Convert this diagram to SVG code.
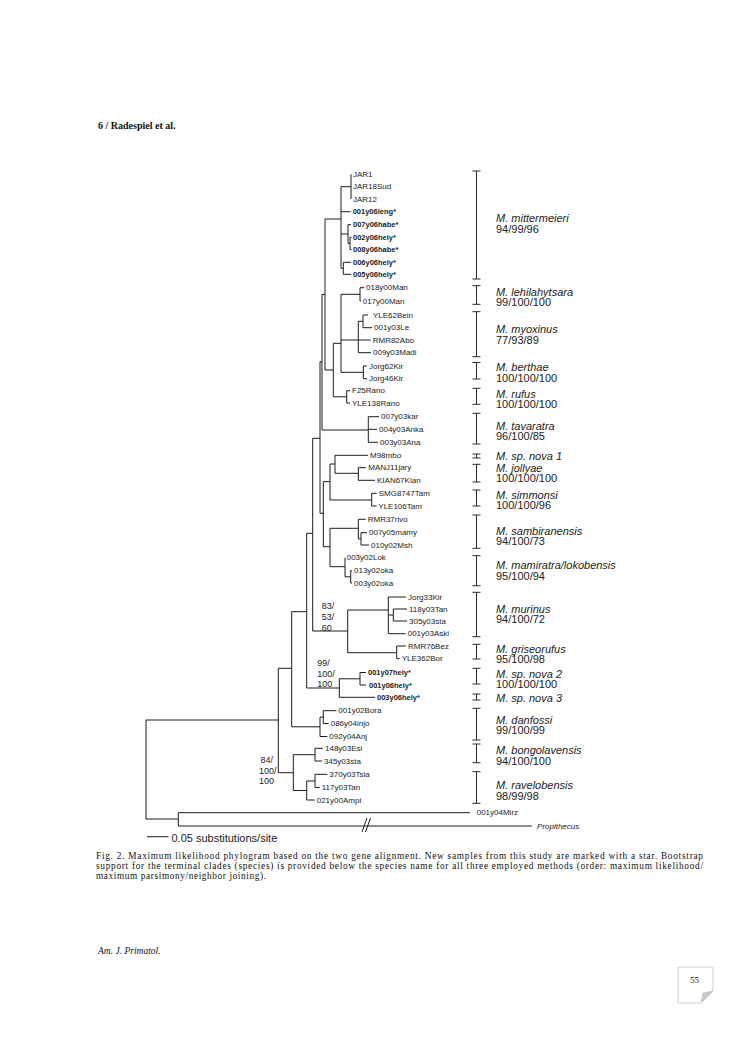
<svg xmlns="http://www.w3.org/2000/svg" width="745" height="1053" viewBox="0 0 745 1053">
<style>
.br{fill:none;stroke:#1c1c1c;stroke-width:1}
.bk{fill:none;stroke:#2a2a2a;stroke-width:1}
.tx{font-family:"Liberation Sans",Arial,sans-serif;font-size:8px;fill:#222;dominant-baseline:central}
.tb{font-weight:bold;font-size:7.5px}
.it{font-style:italic}
.sp{font-family:"Liberation Sans",Arial,sans-serif;font-size:11px;font-style:italic;fill:#222;dominant-baseline:central}
.nm{font-family:"Liberation Sans",Arial,sans-serif;font-size:11px;fill:#222;dominant-baseline:central}
.bs{font-family:"Liberation Sans",Arial,sans-serif;font-size:9px;fill:#222;dominant-baseline:central}
.sf{font-family:"Liberation Serif","Times New Roman",serif;fill:#111}
</style>
<rect width="745" height="1053" fill="#fff"/>
<text class="sf" x="98" y="128.5" font-size="10" font-weight="bold">6 / Radespiel et al.</text>

<g id="connectors">
<path class="br" d="M146 720V819M146 720H278.3M146 819H178.3M178.3 812.7V826M178.3 812.7H470M178.3 826H531.7"/>
<path class="br" d="M362 832L367 818M365.5 832L370.5 818"/>
<path class="br" d="M278.3 668.3V772.7M278.3 668.3H291.7M278.3 772.7H293.3"/>
<path class="br" d="M291.7 611.7V726.8M291.7 611.7H306.7M291.7 726.8H320"/>
<path class="br" d="M306.7 533.3V688M306.7 533.3H312.7M306.7 688H339.3"/>
<path class="br" d="M312.7 438.3V631M312.7 438.3H320M312.7 631H347.7"/>
<path class="br" d="M320 361.7V513.3M320 361.7H322M320 513.3H323.3"/>
<path class="br" d="M322 294.5V430M322 294.5H325M322 430H368.3"/>
<path class="br" d="M325 219V370M325 219H341M325 370H333.3"/>
<path class="br" d="M333.3 343.3V396.8M333.3 343.3H341M333.3 396.8H346.7"/>
<path class="br" d="M341 294.3V372.3M341 294.3H360M341 340H358.3M341 372.3H363.3"/>
<path class="br" d="M341 186.7V268.3M341 186.7H351M341 211.7H350.5M341 234H348M341 268.3H343.3"/>
<path class="br" d="M351 174.3V199M348 224.7V243.4M348 224.7H351M348 243.4H350M350 237.3V249.5M350 237.3H351.5M350 249.5H351.5M343.3 262.3V274.3M343.3 262.3H351M343.3 274.3H351"/>
<path class="br" d="M360 287.7V301M360 287.7H364M360 301H361"/>
<path class="br" d="M358.3 321.3V352.7M358.3 321.3H363M358.3 340H370.7M358.3 352.7H371M363 315V327.7M363 315H368M363 327.7H372"/>
<path class="br" d="M363.3 366V378.7M363.3 366H367M363.3 378.7H367"/>
<path class="br" d="M346.7 390.7V403M346.7 390.7H350M346.7 403H350"/>
<path class="br" d="M368.3 416.7V442.3M368.3 416.7H379M368.3 429.3H377M368.3 442.3H378"/>
<path class="br" d="M323.3 481.7V546.7M323.3 481.7H330M323.3 546.7H330"/>
<path class="br" d="M330 464V500M330 464H335M330 500H371.7M335 455.3V473.3M335 455.3H368M335 473.3H358.3M358.3 467.7V480.3M358.3 467.7H366M358.3 480.3H375M371.7 493.3V506M371.7 493.3H376.7M371.7 506H376.7"/>
<path class="br" d="M330 528.3V566.7M330 528.3H358.3M330 566.7H345M358.3 519.3V538.9M358.3 519.3H365.7M358.3 538.9H361M361 532.7V545M361 532.7H367M361 545H369M345 557.7V576.8M345 576.8H350.7M350.7 570.7V583M350.7 570.7H352M350.7 583H352"/>
<path class="br" d="M347.7 610V652.7M347.7 610H388.3M347.7 652.7H396.7M388.3 597V633.7M388.3 597H406M388.3 615H393.3M388.3 633.7H405.7M393.3 609V621M393.3 609H407M393.3 621H407M396.7 646V658.7M396.7 646H406M396.7 658.7H399.7"/>
<path class="br" d="M339.3 678.8V697.3M339.3 678.8H360M339.3 697.3H375M360 672.5V685M360 672.5H366M360 685H366"/>
<path class="br" d="M320 717.1V736.5M320 717.1H323.3M320 736.5H327.3M323.3 710.7V723.5M323.3 710.7H336.3M323.3 723.5H328.7"/>
<path class="br" d="M293.3 754.7V790.5M293.3 754.7H315M293.3 790.5H306.7M315 748.3V761M315 748.3H323M315 761H322M306.7 781V800M306.7 781H315M306.7 800H314.7M315 774.3V787.5M315 774.3H327.3M315 787.5H319.7"/>
<path class="br" d="M147 836.7H168.5"/>
</g>

<g id="taxa">
<g id="t-JAR1"><text class="tx" x="353" y="174.3">JAR1</text></g>
<g id="t-JAR18Sud"><text class="tx" x="353" y="186.7">JAR18Sud</text></g>
<g id="t-JAR12"><text class="tx" x="353" y="199">JAR12</text></g>
<g id="t-001y06leng"><text class="tx tb" x="352.7" y="211.7">001y06leng*</text></g>
<g id="t-007y06habe"><text class="tx tb" x="353" y="224.7">007y06habe*</text></g>
<g id="t-002y06hely"><text class="tx tb" x="353" y="237.3">002y06hely*</text></g>
<g id="t-008y06habe"><text class="tx tb" x="353" y="249.5">008y06habe*</text></g>
<g id="t-006y06hely"><text class="tx tb" x="353" y="262.3">006y06hely*</text></g>
<g id="t-005y06hely"><text class="tx tb" x="353" y="274.3">005y06hely*</text></g>
<g id="t-018y00Man"><text class="tx" x="366" y="287.7">018y00Man</text></g>
<g id="t-017y00Man"><text class="tx" x="362.7" y="301">017y00Man</text></g>
<g id="t-YLE62Bein"><text class="tx" x="373" y="315">YLE62Bein</text></g>
<g id="t-001y03Le"><text class="tx" x="374" y="327.7">001y03Le</text></g>
<g id="t-RMR82Abo"><text class="tx" x="372.7" y="340">RMR82Abo</text></g>
<g id="t-009y03Madi"><text class="tx" x="373" y="352.7">009y03Madi</text></g>
<g id="t-Jorg62Kir"><text class="tx" x="369" y="366">Jorg62Kir</text></g>
<g id="t-Jorg46Kir"><text class="tx" x="369" y="378.7">Jorg46Kir</text></g>
<g id="t-F25Rano"><text class="tx" x="352" y="390.7">F25Rano</text></g>
<g id="t-YLE138Rano"><text class="tx" x="352" y="403">YLE138Rano</text></g>
<g id="t-007y03kar"><text class="tx" x="381" y="416.7">007y03kar</text></g>
<g id="t-004y03Anka"><text class="tx" x="379" y="429.3">004y03Anka</text></g>
<g id="t-003y03Ana"><text class="tx" x="380" y="442.3">003y03Ana</text></g>
<g id="t-M98mbo"><text class="tx" x="370" y="455.3">M98mbo</text></g>
<g id="t-MANJ11jary"><text class="tx" x="368.3" y="467.7">MANJ11jary</text></g>
<g id="t-KIAN67Kian"><text class="tx" x="377" y="480.3">KIAN67Kian</text></g>
<g id="t-SMG8747Tam"><text class="tx" x="378.7" y="493.3">SMG8747Tam</text></g>
<g id="t-YLE106Tam"><text class="tx" x="378.3" y="506">YLE106Tam</text></g>
<g id="t-RMR37rivo"><text class="tx" x="367.7" y="519.3">RMR37rivo</text></g>
<g id="t-007y05mamy"><text class="tx" x="369" y="532.7">007y05mamy</text></g>
<g id="t-010y02Msh"><text class="tx" x="371" y="545">010y02Msh</text></g>
<g id="t-003y02Lok"><text class="tx" x="346.7" y="557.7">003y02Lok</text></g>
<g id="t-013y02oka"><text class="tx" x="354" y="570.7">013y02oka</text></g>
<g id="t-003y02oka"><text class="tx" x="354" y="583">003y02oka</text></g>
<g id="t-Jorg33Kir"><text class="tx" x="408" y="597">Jorg33Kir</text></g>
<g id="t-118y03Tan"><text class="tx" x="409" y="609">118y03Tan</text></g>
<g id="t-305y03sta"><text class="tx" x="409" y="621">305y03sta</text></g>
<g id="t-001y03Aski"><text class="tx" x="407.7" y="633.7">001y03Aski</text></g>
<g id="t-RMR76Bez"><text class="tx" x="408" y="646">RMR76Bez</text></g>
<g id="t-YLE362Bor"><text class="tx" x="401.7" y="658.7">YLE362Bor</text></g>
<g id="t-001y07hely"><text class="tx tb" x="368" y="672.5">001y07hely*</text></g>
<g id="t-001y06hely"><text class="tx tb" x="369" y="685">001y06hely*</text></g>
<g id="t-003y06hely"><text class="tx tb" x="377" y="697.3">003y06hely*</text></g>
<g id="t-001y02Bora"><text class="tx" x="338.3" y="710.7">001y02Bora</text></g>
<g id="t-086y04injo"><text class="tx" x="330.7" y="723.5">086y04injo</text></g>
<g id="t-092y04Anj"><text class="tx" x="329.3" y="736.5">092y04Anj</text></g>
<g id="t-148y03Esi"><text class="tx" x="325" y="748.3">148y03Esi</text></g>
<g id="t-345y03sta"><text class="tx" x="324" y="761">345y03sta</text></g>
<g id="t-370y03Tsia"><text class="tx" x="329.3" y="774.3">370y03Tsia</text></g>
<g id="t-117y03Tan"><text class="tx" x="321.7" y="787.5">117y03Tan</text></g>
<g id="t-021y00Ampi"><text class="tx" x="316.7" y="800">021y00Ampi</text></g>
<g id="t-001y04Mirz"><text class="tx" x="476.7" y="812.7">001y04Mirz</text></g>
<g id="t-Propithecus"><text class="tx it" x="537" y="826">Propithecus</text></g>
</g>

<g id="support">
<g id="bs-83"><text class="bs" x="321.7" y="606.3">83/</text><text class="bs" x="321.7" y="617">53/</text><text class="bs" x="321.7" y="627.7">60</text></g>
<g id="bs-99"><text class="bs" x="317.3" y="663.3">99/</text><text class="bs" x="317.3" y="673.7">100/</text><text class="bs" x="317.3" y="683.5">100</text></g>
<g id="bs-84"><text class="bs" x="260.5" y="760">84/</text><text class="bs" x="259" y="770.7">100/</text><text class="bs" x="259" y="781">100</text></g>
</g>

<g id="species">
<g id="s-mittermeieri"><path class="bk" d="M476.5 171V279M472.5 171H480.5M472.5 279H480.5"/><text class="sp" x="496" y="218">M. mittermeieri</text><text class="nm" x="496" y="228.5">94/99/96</text></g>
<g id="s-lehilahytsara"><path class="bk" d="M476.5 285.7V304.3M472.5 285.7H480.5M472.5 304.3H480.5"/><text class="sp" x="496" y="291.5">M. lehilahytsara</text><text class="nm" x="496" y="302">99/100/100</text></g>
<g id="s-myoxinus"><path class="bk" d="M476.5 311.7V356.7M472.5 311.7H480.5M472.5 356.7H480.5"/><text class="sp" x="496" y="329">M. myoxinus</text><text class="nm" x="496" y="339.5">77/93/89</text></g>
<g id="s-berthae"><path class="bk" d="M476.5 362.5V379M472.5 362.5H480.5M472.5 379H480.5"/><text class="sp" x="496" y="367">M. berthae</text><text class="nm" x="496" y="377.5">100/100/100</text></g>
<g id="s-rufus"><path class="bk" d="M476.5 388.3V404.3M472.5 388.3H480.5M472.5 404.3H480.5"/><text class="sp" x="496" y="393.5">M. rufus</text><text class="nm" x="496" y="404">100/100/100</text></g>
<g id="s-tavaratra"><path class="bk" d="M476.5 413.3V444M472.5 413.3H480.5M472.5 444H480.5"/><text class="sp" x="496" y="425.5">M. tavaratra</text><text class="nm" x="496" y="436">96/100/85</text></g>
<g id="s-spnova1"><path class="bk" d="M476.5 454V458M472.5 454H480.5M472.5 458H480.5"/><text class="sp" x="496" y="455.5">M. sp. nova 1</text></g>
<g id="s-jollyae"><path class="bk" d="M476.5 464.3V482M472.5 464.3H480.5M472.5 482H480.5"/><text class="sp" x="496" y="467.5">M. jollyae</text><text class="nm" x="496" y="478">100/100/100</text></g>
<g id="s-simmonsi"><path class="bk" d="M476.5 490V506M472.5 490H480.5M472.5 506H480.5"/><text class="sp" x="496" y="494.5">M. simmonsi</text><text class="nm" x="496" y="505">100/100/96</text></g>
<g id="s-sambiranensis"><path class="bk" d="M476.5 515V548.3M472.5 515H480.5M472.5 548.3H480.5"/><text class="sp" x="496" y="530.5">M. sambiranensis</text><text class="nm" x="496" y="541">94/100/73</text></g>
<g id="s-mamiratra"><path class="bk" d="M476.5 555.7V585.7M472.5 555.7H480.5M472.5 585.7H480.5"/><text class="sp" x="496" y="565">M. mamiratra/lokobensis</text><text class="nm" x="496" y="575.5">95/100/94</text></g>
<g id="s-murinus"><path class="bk" d="M476.5 592.3V636.7M472.5 592.3H480.5M472.5 636.7H480.5"/><text class="sp" x="496" y="608.5">M. murinus</text><text class="nm" x="496" y="619">94/100/72</text></g>
<g id="s-griseorufus"><path class="bk" d="M476.5 644.3V659M472.5 644.3H480.5M472.5 659H480.5"/><text class="sp" x="496" y="648.5">M. griseorufus</text><text class="nm" x="496" y="659">95/100/98</text></g>
<g id="s-spnova2"><path class="bk" d="M476.5 668.3V684M472.5 668.3H480.5M472.5 684H480.5"/><text class="sp" x="496" y="673.5">M. sp. nova 2</text><text class="nm" x="496" y="684">100/100/100</text></g>
<g id="s-spnova3"><path class="bk" d="M476.5 694V700M472.5 694H480.5M472.5 700H480.5"/><text class="sp" x="496" y="697.5">M. sp. nova 3</text></g>
<g id="s-danfossi"><path class="bk" d="M476.5 708.3V740M472.5 708.3H480.5M472.5 740H480.5"/><text class="sp" x="496" y="719.5">M. danfossi</text><text class="nm" x="496" y="730">99/100/99</text></g>
<g id="s-bongolavensis"><path class="bk" d="M476.5 744V762.7M472.5 744H480.5M472.5 762.7H480.5"/><text class="sp" x="496" y="750">M. bongolavensis</text><text class="nm" x="496" y="760.5">94/100/100</text></g>
<g id="s-ravelobensis"><path class="bk" d="M476.5 771.7V803.3M472.5 771.7H480.5M472.5 803.3H480.5"/><text class="sp" x="496" y="785">M. ravelobensis</text><text class="nm" x="496" y="795.5">98/99/98</text></g>
</g>

<g id="scale"><text class="nm" x="171.5" y="837.5" font-size="10.5">0.05 substitutions/site</text></g>

<g id="caption" class="sf" font-size="9.3">
<text x="96" y="859" textLength="607" lengthAdjust="spacing">Fig. 2. Maximum likelihood phylogram based on the two gene alignment. New samples from this study are marked with a star. Bootstrap</text>
<text x="96" y="869" textLength="607" lengthAdjust="spacing">support for the terminal clades (species) is provided below the species name for all three employed methods (order: maximum likelihood/</text>
<text x="96" y="879" textLength="170" lengthAdjust="spacing">maximum parsimony/neighbor joining).</text>
</g>

<text class="sf" x="98" y="954" font-size="9.5" font-style="italic">Am. J. Primatol.</text>

<g id="page">
<path d="M678 967H713V991L701 1003H678Z" fill="#fff" stroke="#d0d0d0" stroke-width="1"/>
<path d="M713 991L701 1003L703 993Z" fill="#c8c8c8" stroke="#b8b8b8" stroke-width="0.6"/>
<text class="sf" x="690" y="983" font-size="9">55</text>
</g>
</svg>
